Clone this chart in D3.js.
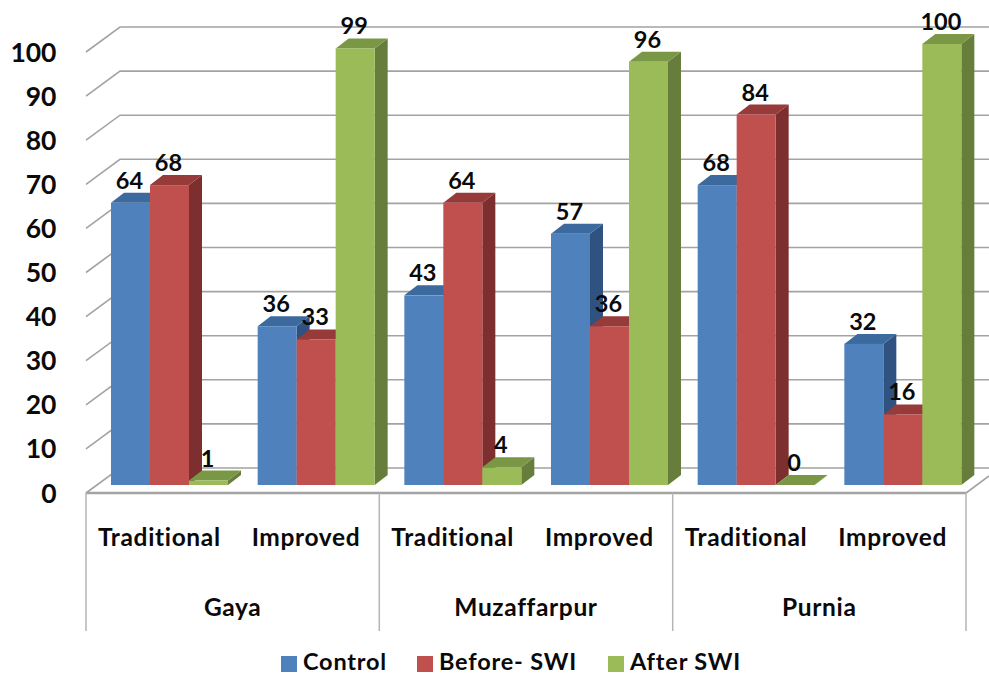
<!DOCTYPE html>
<html><head><meta charset="utf-8">
<script src="https://cdnjs.cloudflare.com/ajax/libs/d3/7.8.5/d3.min.js"></script>
<style>html,body{margin:0;padding:0;background:#fff}svg{display:block}text{font-family:Lato,"Open Sans",sans-serif;font-weight:700;fill:#0a0a0a}</style>
</head><body><svg id="c" width="989" height="675"></svg>
<script>
const districts = ["Gaya","Muzaffarpur","Purnia"];
const methods = ["Traditional","Improved"];
const seriesNames = ["Control","Before- SWI","After SWI"];
const control = [64,36,43,57,68,32];
const beforeSWI = [68,33,64,36,84,16];
const afterSWI = [1,99,4,96,0,100];
const yTicks = [0,10,20,30,40,50,60,70,80,90,100];
const frontCol = ["#4f81bd","#c0504d","#9bbb59"];
const topCol = ["#3d6a9e","#963b39","#7a9746"];
const sideCol = ["#2f5280","#7c2f2e","#667d3b"];

const svg = d3.select("#c");
const series = [control,beforeSWI,afterSWI];
const cats = d3.range(6);
const x0 = d3.scaleBand().domain(cats).range([86,966]).paddingInner(0).paddingOuter(0);
const xD = d3.scaleBand().domain(districts).range([86,966]);
const innerPad = 25;
const x1 = d3.scaleBand().domain([0,1,2]).range([innerPad,innerPad+117]);
const yBar = d3.scaleLinear().domain([0,100]).range([485,44]);
const yFront = d3.scaleLinear().domain([0,100]).range([493,52]);
const wallDx = 34, wallDy = -25, barDx = 13, barDy = -10;

const grid = "#a3a3a3";
const g = svg.append("g");
yTicks.forEach(t=>{
  const y=yFront(t);
  g.append("path").attr("d",`M86,${y}L${86+wallDx},${y+wallDy}L989,${y+wallDy}`).attr("fill","none").attr("stroke",grid).attr("stroke-width",1.6);
});
g.append("line").attr("x1",966).attr("y1",yFront(0)).attr("x2",989).attr("y2",yFront(0)-17).attr("stroke",grid).attr("stroke-width",1.6);
g.append("line").attr("x1",86).attr("x2",966).attr("y1",yFront(0)).attr("y2",yFront(0)).attr("stroke",grid).attr("stroke-width",2.4);
[86,379.3,672.7,966].forEach(x=>g.append("line").attr("x1",x).attr("x2",x).attr("y1",yFront(0)).attr("y2",631).attr("stroke","#b5b5b5").attr("stroke-width",1.5));

cats.forEach(c=>{
  series.forEach((s,i)=>{
    const v=s[c], l=x0(c)+x1(i), w=x1.bandwidth(), r=l+w, t=yBar(v), b=yBar(0);
    g.append("path").attr("d",`M${r},${t}L${r+barDx},${t+barDy}L${r+barDx},${b+barDy}L${r},${b}Z`).attr("fill",sideCol[i]);
    g.append("path").attr("d",`M${l},${t}L${l+barDx},${t+barDy}L${r+barDx},${t+barDy}L${r},${t}Z`).attr("fill",topCol[i]);
    g.append("rect").attr("x",l).attr("y",t).attr("width",w).attr("height",b-t).attr("fill",frontCol[i]);
  });
});
cats.forEach(c=>series.forEach((s,i)=>{
  svg.append("text").attr("x",x0(c)+x1(i)+x1.bandwidth()/2-1).attr("y",yBar(s[c])-14)
    .attr("text-anchor","middle").attr("font-size",23.5).text(s[c]);
}));
yTicks.forEach(t=>svg.append("text").attr("x",56.5).attr("y",yFront(t)+9.5).attr("text-anchor","end").attr("font-size",26.5).text(t));
cats.forEach(c=>svg.append("text").attr("x",x0(c)+x0.bandwidth()/2).attr("y",546).attr("text-anchor","middle").attr("font-size",24.5).attr("letter-spacing",0.65).text(methods[c%2]));
districts.forEach(d=>svg.append("text").attr("x",xD(d)+xD.bandwidth()/2).attr("y",616).attr("text-anchor","middle").attr("font-size",24.5).attr("letter-spacing",0.65).text(d));
const legX=[281,417,608];
seriesNames.forEach((n,i)=>{
  svg.append("rect").attr("x",legX[i]).attr("y",656).attr("width",16).attr("height",16).attr("fill",frontCol[i]);
  svg.append("text").attr("x",legX[i]+22).attr("y",670).attr("font-size",23.5).attr("letter-spacing",0.8).text(n);
});
</script></body></html>
